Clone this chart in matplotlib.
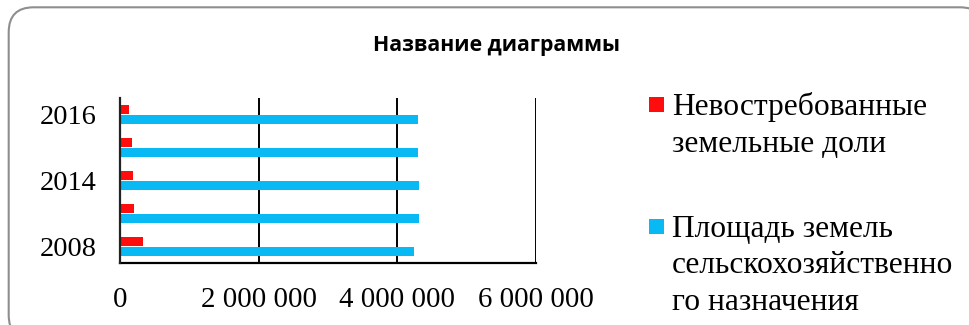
import matplotlib
matplotlib.use("Agg")
import matplotlib.pyplot as plt
from matplotlib.patches import FancyBboxPatch, Rectangle
from matplotlib.transforms import IdentityTransform
from matplotlib.ticker import FuncFormatter

# Data
years = ["2008", "2012", "2014", "2015", "2016"]
unclaimed_shares = [330000, 200000, 186000, 175000, 134000]
farmland_area = [4240000, 4310000, 4315000, 4300000, 4300000]
series_names = ["Невостребованные\nземельные доли",
                "Площадь земель\nсельскохозяйственно\nго назначения"]
title = "Название диаграммы"
x_ticks = [0, 2000000, 4000000, 6000000]
shown_year_labels = ["2008", "2014", "2016"]

RED = "#FF0D0D"
BLUE = "#08B9F4"
SERIF = "Liberation Serif"

W, H, DPI = 970, 325, 100
fig = plt.figure(figsize=(W / DPI, H / DPI), dpi=DPI)

# Rounded chart frame
frame = FancyBboxPatch((8.7, -15), 985 - 8.7, (H - 7.3) + 15,
                       boxstyle="round,pad=0,rounding_size=25",
                       transform=IdentityTransform(), facecolor="white",
                       edgecolor="#8E8E8E", linewidth=1.5, zorder=0)
fig.add_artist(frame)

ax = fig.add_axes([120 / W, 62 / H, 416 / W, 165 / H])
ax.set_facecolor("none")

pos = list(range(len(years)))
bh = 0.29
off = 0.155
ax.barh([p + off for p in pos], unclaimed_shares, height=bh, color=RED, zorder=3)
ax.barh([p - off for p in pos], farmland_area, height=bh, color=BLUE, zorder=3)

ax.set_xlim(0, 6000000)
ax.set_ylim(-0.5, len(years) - 0.5)
ax.set_xticks(x_ticks)
ax.xaxis.set_major_formatter(FuncFormatter(lambda v, _: f"{int(v):,}".replace(",", " ")))
ax.set_yticks([years.index(y) for y in shown_year_labels])
ax.set_yticklabels(shown_year_labels)
ax.tick_params(axis="x", length=0, pad=17, labelsize=20.8)
ax.tick_params(axis="y", length=0, pad=17, labelsize=20.4)
for lab in ax.get_xticklabels() + ax.get_yticklabels():
    lab.set_fontfamily(SERIF)

ax.xaxis.grid(True, color="black", linewidth=1.4, zorder=1)
ax.set_axisbelow(True)
ax.spines["top"].set_visible(False)
ax.spines["right"].set_visible(False)
ax.spines["left"].set_color("#222222")
ax.spines["left"].set_linewidth(1.6)
ax.spines["left"].set_zorder(4)
ax.spines["bottom"].set_color("black")
ax.spines["bottom"].set_linewidth(1.6)

# Title, sized to span about 248 px
t = fig.text(497 / W, 1 - 46 / H, title, ha="center", va="center",
             fontsize=14, fontweight="bold", family="Open Sans")
fig.canvas.draw()
tw = t.get_window_extent().width
t.set_fontsize(14 * 248 / tw)

# Legend, one text line at a time
line_step = 36.7
legend_items = [(series_names[0], RED, 115, 97), (series_names[1], BLUE, 236.7, 219)]
for name, col, base, sq_top in legend_items:
    fig.add_artist(Rectangle((649, H - sq_top - 15), 15, 15, transform=IdentityTransform(),
                             facecolor=col, edgecolor="none"))
    for i, line in enumerate(name.split("\n")):
        fig.text(672 / W, 1 - (base + i * line_step) / H, line, ha="left",
                 va="baseline", fontsize=22.7, family=SERIF)

fig.savefig("out.png", dpi=DPI)
